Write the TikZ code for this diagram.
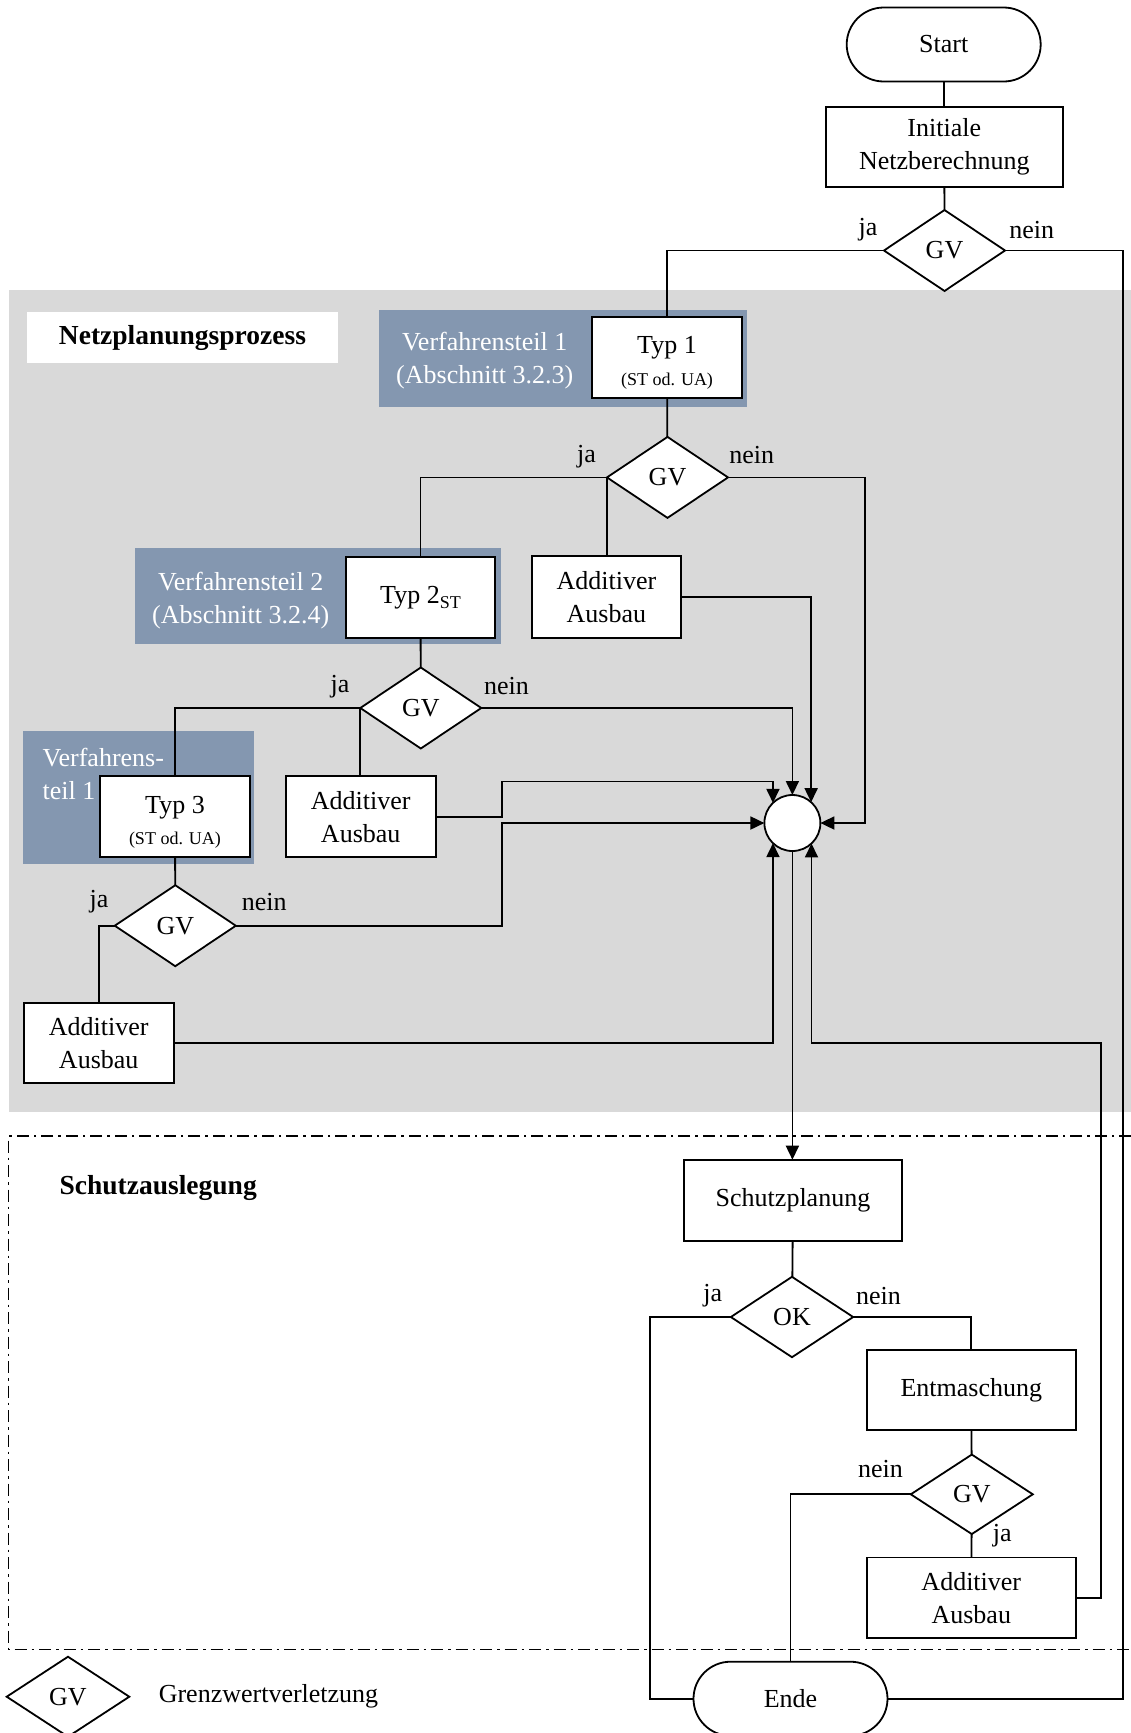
\documentclass[tikz,border=0pt]{standalone}
\usepackage{fontspec}
\setmainfont{Liberation Serif}
\usetikzlibrary{shapes.geometric,arrows.meta}
\definecolor{panelgray}{HTML}{D9D9D9}
\definecolor{partblue}{HTML}{8497B0}
\pgfdeclarelayer{back}
\pgfdeclarelayer{wires}
\pgfsetlayers{back,wires,main}
\newcommand{\bigtext}{\fontsize{26}{33}\selectfont}
\newcommand{\smalltext}{\fontsize{18}{22}\selectfont}
\newcommand{\headtext}{\fontsize{27.5}{33}\selectfont\bfseries}
\begin{document}
\begin{tikzpicture}[x=1pt,y=-1pt,
  every node/.style={font=\bigtext,inner sep=0pt,outer sep=0pt},
  proc/.style={rectangle,draw,fill=white,line width=1.8pt,align=center},
  term/.style={rectangle,draw,fill=white,line width=1.8pt,rounded corners=37pt,
               minimum width=194pt,minimum height=74pt},
  decision/.style={diamond,draw,fill=white,line width=1.8pt,
                   minimum width=121pt,minimum height=81pt},
  joint/.style={circle,draw,fill=white,line width=1.8pt,minimum size=56pt},
  part/.style={rectangle,fill=partblue},
  parttext/.style={text=white,align=center},
  wire/.style={line width=1.8pt},
  arr/.style={wire,-{Triangle[length=14pt,width=13pt]}},
  frame/.style={line width=1.3pt,dash pattern=on 12pt off 5pt on 2.5pt off 5pt},
]
\useasboundingbox (0,0) rectangle (1131,1733);
\clip (0,0) rectangle (1131,1733);

% ---------- backgrounds, part panels, titles ----------
\begin{pgfonlayer}{back}
  \fill[panelgray] (8.7,290) rectangle (1131,1111.5);
  \node[rectangle,fill=white,minimum width=311.6pt,minimum height=51pt,font=\headtext]
       (ttl) at (182.5,337.8) {Netzplanungsprozess};

  \node[part,minimum width=367.5pt,minimum height=96.7pt] (vt1) at (562.75,358.35) {};
  \node[parttext] (vt1t) at (484.7,361) {Verfahrensteil 1\\(Abschnitt 3.2.3)};

  \node[part,minimum width=365.5pt,minimum height=96pt] (vt2) at (317.95,596.3) {};
  \node[parttext] (vt2t) at (240.7,601) {Verfahrensteil 2\\(Abschnitt 3.2.4)};

  \node[part,minimum width=231pt,minimum height=132.7pt] (vt3) at (138.5,797.35) {};
  \node[text=white,align=left,anchor=west] (vt3t) at (42.7,774.4) {Verfahrens-\\teil 1};

  \draw[frame] (1131,1136) -- (8.7,1136) -- (8.7,1649.3) -- (1131,1649.3);
  \node[font=\headtext] (ttl2) at (158.2,1188) {Schutzauslegung};
\end{pgfonlayer}

% ---------- upper start part ----------
\node[term] (start) at (943.7,44.5) {Start};
\node[proc,minimum width=236.7pt,minimum height=79.4pt] (init) at (944.3,147) {Initiale\\Netzberechnung};
\node[decision] (gv0) at (944.5,250.5) {GV};

% ---------- Verfahrensteil 1 ----------
\node[proc,minimum width=150.2pt,minimum height=81pt] (typ1) at (667,357.2) {};
\node (typ1a) at (667,347.5) {Typ 1};
\node[font=\smalltext] (typ1b) at (667,381) {(ST od. UA)};
\node[decision] (gv1) at (667.5,477.4) {GV};
\node[proc,minimum width=149pt,minimum height=82pt] (aa1) at (606.4,597.2) {Additiver\\Ausbau};

% ---------- Verfahrensteil 2 ----------
\node[proc,minimum width=149.4pt,minimum height=81.6pt] (typ2) at (420.5,597.5)
     {Typ 2\raisebox{-0.22em}{\smalltext ST}};
\node[decision] (gv2) at (420.8,708) {GV};
\node[proc,minimum width=150pt,minimum height=81.3pt] (aa2) at (360.7,816.7) {Additiver\\Ausbau};

% ---------- Verfahrensteil 1 (Typ 3) ----------
\node[proc,minimum width=149.6pt,minimum height=81.3pt] (typ3) at (175,816.7) {};
\node (typ3a) at (175,807.5) {Typ 3};
\node[font=\smalltext] (typ3b) at (175,840.3) {(ST od. UA)};
\node[decision] (gv3) at (175.3,925.7) {GV};
\node[proc,minimum width=150pt,minimum height=79.4pt] (aa3) at (98.7,1043) {Additiver\\Ausbau};

% ---------- junction ----------
\node[joint] (circ) at (792.4,823) {};

% ---------- Schutzauslegung ----------
\node[proc,minimum width=218pt,minimum height=81.6pt] (sp) at (793,1200.5) {Schutzplanung};
\node[decision,minimum width=122.3pt,minimum height=80.4pt] (ok) at (792,1317) {OK};
\node[proc,minimum width=209pt,minimum height=79.5pt] (ent) at (971.3,1390) {Entmaschung};
\node[decision,minimum width=122pt,minimum height=79.5pt] (gv4) at (971.8,1494.3) {GV};
\node[proc,minimum width=209pt,minimum height=80.8pt] (aa4) at (971.3,1597.8) {Additiver\\Ausbau};
\node[term] (ende) at (790.5,1698.7) {Ende};

% ---------- legend ----------
\node[decision,minimum width=122.6pt,minimum height=80pt] (lgv) at (68,1696.7) {GV};
\node (lgt) at (268.5,1696) {Grenzwertverletzung};

% ---------- branch labels ----------
\node (j0) at (868,230) {ja};
\node (n0) at (1031.7,230) {nein};
\node (j1) at (586.5,456.7) {ja};
\node (n1) at (751.8,455) {nein};
\node (j2) at (340,686.7) {ja};
\node (n2) at (506.4,686) {nein};
\node (j3) at (99,901.7) {ja};
\node (n3) at (264.3,901.7) {nein};
\node (jok) at (712.8,1295.8) {ja};
\node (nok) at (878.4,1295.8) {nein};
\node (n4) at (880.4,1469.4) {nein};
\node (j4) at (1002.3,1535.2) {ja};

% ---------- bend points ----------
\coordinate (rimR) at (1123.3,1698.7);
\coordinate (rimL) at (649.8,1698.7);
\coordinate (b1) at (864.7,823);
\coordinate (b2) at (501.7,781.4);
\coordinate (b3) at (501.7,823);
\coordinate (b4) at (1101.3,1042.6);

% ---------- connectors ----------
\begin{pgfonlayer}{wires}
  \draw[wire] (start) -- (init);
  \draw[wire] (init) -- (gv0);
  \draw[wire] (gv0.west) -| (typ1.north);
  \draw[wire] (gv0.east) -| (rimR) -- (ende.east);
  \draw[wire] (typ1) -- (gv1);
  \draw[wire] (gv1.west) -| (typ2.north);
  \draw[wire] (gv1.west) -- (gv1.west |- aa1.north);
  \draw[arr] (gv1.east) -| (b1) -- (circ.east);
  \draw[arr] (aa1.east) -| (circ.48);
  \draw[wire] (typ2) -- (gv2);
  \draw[arr] (gv2.east) -| (circ.north);
  \draw[wire] (gv2.west) -| (typ3.north);
  \draw[wire] (gv2.west) -- (gv2.west |- aa2.north);
  \draw[arr] (aa2.east) -| (b2) -| (circ.134);
  \draw[wire] (typ3) -- (gv3);
  \draw[arr] (gv3.east) -| (b3) -- (circ.west);
  \draw[wire] (gv3.west) -| (aa3.north);
  \draw[arr] (aa3.east) -| (circ.226);
  \draw[arr] (circ.south) -- (circ.south |- sp.north);
  \draw[wire] (sp) -- (ok);
  \draw[wire] (ok.west) -| (rimL) -- (ende.west);
  \draw[wire] (ok.east) -| (ent.north);
  \draw[wire] (ent) -- (gv4);
  \draw[wire] (gv4.west) -| (ende.north);
  \draw[wire] (gv4) -- (aa4);
  \draw[arr] (aa4.east) -| (b4) -| (circ.313);
\end{pgfonlayer}
\end{tikzpicture}
\end{document}
